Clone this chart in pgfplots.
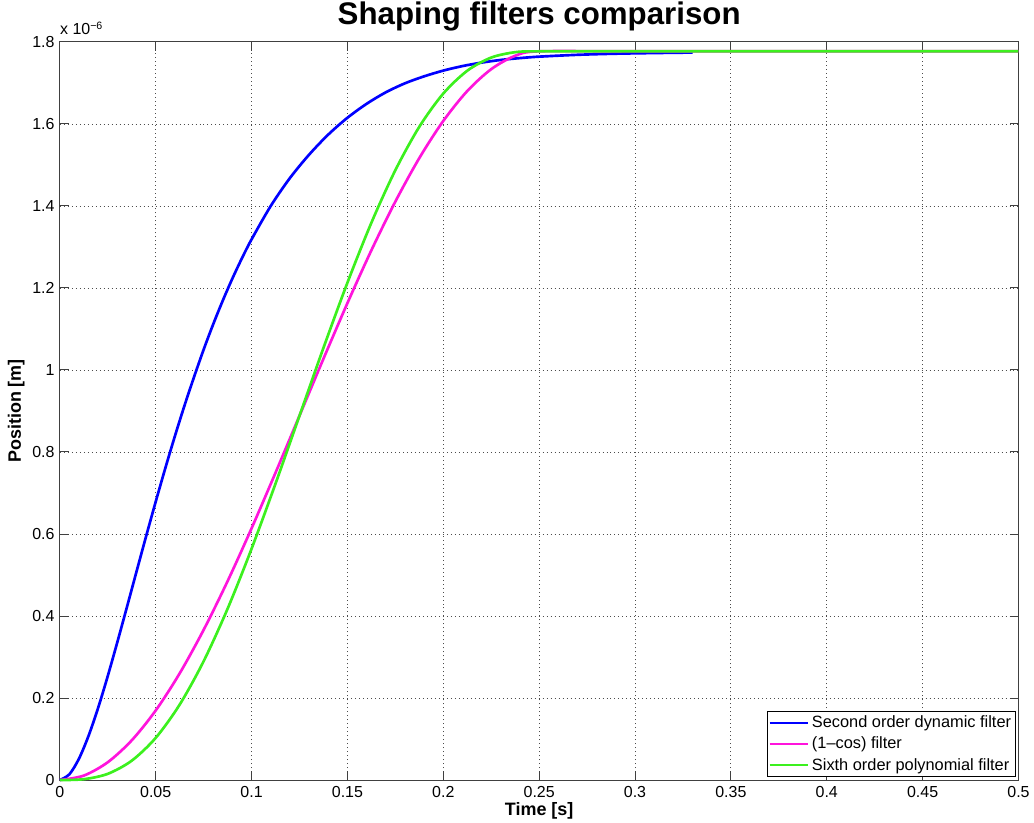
\documentclass[border=0pt]{standalone}
\usepackage{fontspec}
\setmainfont{Liberation Sans}
\usepackage{pgfplots}
\usepackage{pgfplotstable}
\pgfplotsset{compat=1.18}
\definecolor{mblue}{RGB}{0,0,255}
\definecolor{mmag}{RGB}{255,20,220}
\definecolor{mgreen}{RGB}{60,240,30}

\pgfplotstableread{
t y
0 0
0.005 0.0142
0.01 0.0524
0.015 0.1082
0.02 0.1766
0.025 0.2538
0.03 0.3366
0.035 0.4220
0.04 0.5086
0.045 0.5946
0.05 0.6788
0.055 0.7604
0.06 0.8386
0.065 0.9130
0.07 0.9830
0.075 1.0497
0.08 1.1117
0.085 1.1694
0.09 1.2231
0.095 1.2727
0.1 1.3185
0.11 1.3999
0.12 1.4680
0.13 1.5250
0.14 1.5740
0.15 1.6150
0.16 1.6490
0.17 1.6770
0.18 1.6990
0.19 1.7160
0.2 1.7300
0.21 1.7410
0.22 1.7495
0.23 1.7560
0.24 1.7605
0.25 1.7640
0.27 1.7685
0.29 1.7712
0.31 1.7728
0.33 1.7740
}\secondorder

\pgfplotstableread{
t y
0 0
0.0125 0.0109
0.025 0.0435
0.0375 0.0969
0.05 0.1697
0.0625 0.2602
0.075 0.3663
0.0875 0.4851
0.1 0.6139
0.1125 0.7495
0.125 0.8885
0.1375 1.0275
0.15 1.1631
0.1625 1.2919
0.175 1.4107
0.1875 1.5168
0.2 1.6073
0.2125 1.6802
0.225 1.7335
0.2375 1.7661
0.25 1.7770
0.3 1.7770
0.4 1.7770
0.5 1.7770
}\onecos

\pgfplotstableread{
t y
0 0
0.0125 0.0021
0.025 0.0152
0.0375 0.0473
0.05 0.1029
0.0625 0.1840
0.075 0.2898
0.0875 0.4179
0.1 0.5641
0.1125 0.7230
0.125 0.8885
0.1375 1.0540
0.15 1.2129
0.1625 1.3591
0.175 1.4872
0.1875 1.5931
0.2 1.6741
0.2125 1.7297
0.225 1.7618
0.2375 1.7749
0.25 1.7770
0.3 1.7770
0.4 1.7770
0.5 1.7770
}\sixth

\begin{document}
\begin{tikzpicture}
\begin{axis}[
  scale only axis,
  width=720.75pt, height=555pt,
  xmin=0, xmax=0.5, ymin=0, ymax=1.8,
  xtick={0,0.05,0.1,0.15,0.2,0.25,0.3,0.35,0.4,0.45,0.5},
  xticklabels={0,0.05,0.1,0.15,0.2,0.25,0.3,0.35,0.4,0.45,0.5},
  ytick={0,0.2,0.4,0.6,0.8,1,1.2,1.4,1.6,1.8},
  yticklabels={0,0.2,0.4,0.6,0.8,1,1.2,1.4,1.6,1.8},
  tick align=inside, xtick pos=both, ytick pos=both,
  major tick length=6.75pt,
  grid=major,
  major grid style={black!70, line width=0.6pt, dash pattern=on 0.75pt off 2.25pt},
  axis line style={black!75, line width=0.75pt},
  tick style={black!75, line width=0.75pt},
  ticklabel style={font=\fontsize{12}{14}\selectfont},
  xticklabel style={yshift=-1pt},
  yticklabel style={xshift=-0.5pt},
  title={Shaping filters comparison},
  title style={at={(0.5,1)}, anchor=base, yshift=7pt, inner sep=0pt, font=\fontsize{23.5}{26}\selectfont\bfseries},
  xlabel={Time [s]},
  ylabel={Position [m]},
  label style={font=\fontsize{13.5}{16}\selectfont\bfseries, inner sep=0pt},
  xlabel style={at={(axis description cs:0.5,0)}, anchor=base, yshift=-27pt},
  ylabel style={at={([xshift=-29.25pt]axis description cs:0,0.5)}, anchor=base},
  legend style={at={(rel axis cs:1,0)}, anchor=south east, xshift=-2.25pt, yshift=2.25pt,
    draw=black, line width=0.6pt, fill=white,
    font=\fontsize{12.3}{14}\selectfont, row sep=1.5pt, inner xsep=1pt, inner ysep=1.5pt},
  legend cell align=left,
  legend image code/.code={\draw[#1, line width=1.5pt] (0pt,0pt) -- (29pt,0pt);},
  clip=false,
]
\addplot[mblue, line width=2pt, smooth, tension=0.5] table[x=t, y=y] {\secondorder};
\addlegendentry{Second order dynamic filter}
\addplot[mmag, line width=2pt, smooth, tension=0.5] table[x=t, y=y] {\onecos};
\addlegendentry{(1–cos) filter}
\addplot[mgreen, line width=2pt, smooth, tension=0.5] table[x=t, y=y] {\sixth};
\addlegendentry{Sixth order polynomial filter}
\node[anchor=base west, font=\fontsize{12}{14}\selectfont, inner sep=0pt] at (rel axis cs:0,1) [yshift=5.25pt] {x 10\textsuperscript{−6}};
\end{axis}
\path (current axis.south west) ++(-45pt,-32.25pt) coordinate (bl);
\path (current axis.north east) ++(9.75pt,31.5pt) coordinate (tr);
\path (bl) rectangle (tr);
\end{tikzpicture}
\end{document}
